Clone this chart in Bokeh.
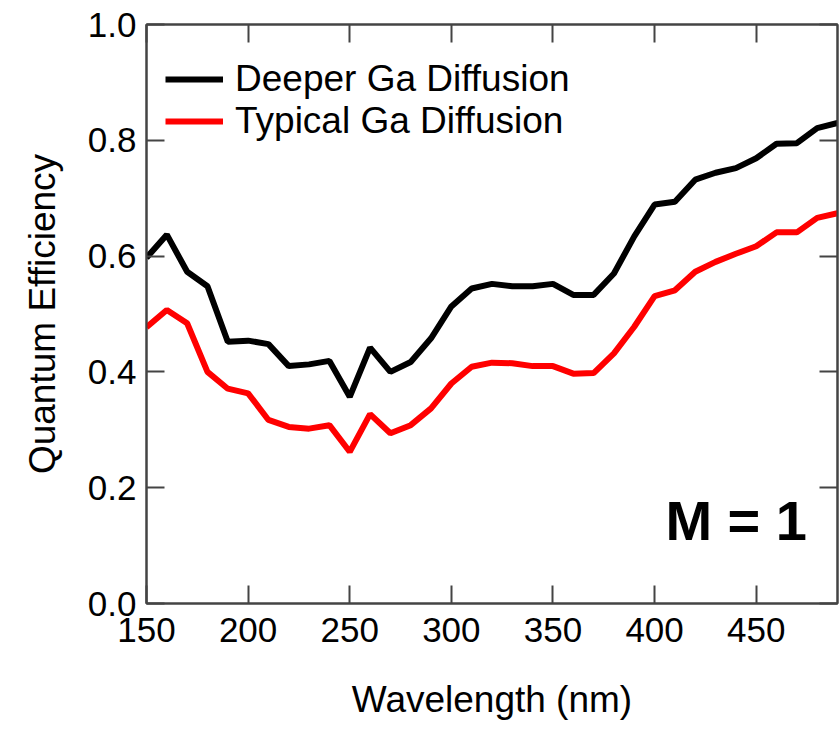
from bokeh.plotting import figure
from bokeh.models import (LinearAxis, Legend, LegendItem, Label, Range1d,
                          FixedTicker, NumeralTickFormatter, CustomJSTickFormatter)
from bokeh.embed import file_html
from bokeh.resources import INLINE

# ---- data ----
wavelength = [150, 160, 170, 180, 190, 200, 210, 220, 230, 240, 250, 260,
              270, 280, 290, 300, 310, 320, 330, 340, 350, 360, 370, 380,
              390, 400, 410, 420, 430, 440, 450, 460, 470, 480, 490]
deeper = [0.597, 0.637, 0.573, 0.548, 0.452, 0.454, 0.448, 0.410, 0.413,
          0.419, 0.357, 0.442, 0.400, 0.417, 0.458, 0.513, 0.544, 0.552,
          0.548, 0.548, 0.552, 0.533, 0.533, 0.570, 0.634, 0.689, 0.694,
          0.732, 0.744, 0.752, 0.769, 0.794, 0.795, 0.821, 0.830]
typical = [0.477, 0.507, 0.484, 0.400, 0.371, 0.363, 0.317, 0.305, 0.302,
           0.308, 0.262, 0.327, 0.294, 0.308, 0.337, 0.380, 0.409, 0.416,
           0.415, 0.410, 0.410, 0.397, 0.398, 0.432, 0.478, 0.531, 0.541,
           0.573, 0.590, 0.604, 0.617, 0.641, 0.641, 0.666, 0.674]
x_ticks = [150, 200, 250, 300, 350, 400, 450]
y_ticks = [0.0, 0.2, 0.4, 0.6, 0.8, 1.0]
series_labels = ["Deeper Ga Diffusion", "Typical Ga Diffusion"]
series_colors = ["black", "#ff0000"]
x_title = "Wavelength (nm)"
y_title = "Quantum Efficiency"
annotation = "M = 1"

FONT = "Liberation Sans"
AXC = "#444444"

p = figure(width=840, height=730, output_backend="svg", toolbar_location=None,
           x_range=Range1d(150, 490), y_range=Range1d(0, 1.0),
           min_border_left=146, min_border_right=3, min_border_top=24,
           min_border_bottom=127, x_axis_location=None, y_axis_location=None)
p.xgrid.visible = False
p.ygrid.visible = False
p.outline_line_color = AXC
p.outline_line_width = 2
p.background_fill_color = "white"
p.border_fill_color = "white"


def style_axis(ax, ticks, show_labels):
    ax.ticker = FixedTicker(ticks=ticks)
    ax.axis_line_color = AXC
    ax.axis_line_width = 2
    ax.major_tick_line_color = AXC
    ax.major_tick_line_width = 2
    ax.major_tick_in = 18
    ax.major_tick_out = 0
    ax.minor_tick_line_color = None
    ax.major_label_text_font = FONT
    ax.major_label_text_color = "black"
    ax.axis_label_text_font = FONT
    ax.axis_label_text_font_style = "normal"
    ax.axis_label_text_color = "black"
    if show_labels:
        ax.major_label_text_font_size = "35px"
        ax.major_label_standoff = 10
    else:
        ax.formatter = CustomJSTickFormatter(code="return ''")
        ax.major_label_text_font_size = "1px"
        ax.major_label_standoff = 0


xb = LinearAxis(axis_label=x_title)
style_axis(xb, x_ticks, True)
xb.major_label_standoff = 14
xb.axis_label_text_font_size = "37px"
xb.axis_label_standoff = 34
p.add_layout(xb, "below")

yl = LinearAxis(axis_label=y_title, formatter=NumeralTickFormatter(format="0.0"))
style_axis(yl, y_ticks, True)
yl.axis_label_text_font_size = "37px"
yl.axis_label_standoff = 22
p.add_layout(yl, "left")

xt = LinearAxis()
style_axis(xt, x_ticks, False)
p.add_layout(xt, "above")

yr = LinearAxis()
style_axis(yr, y_ticks, False)
p.add_layout(yr, "right")

r1 = p.line(wavelength, deeper, line_width=6, line_color=series_colors[0])
r2 = p.line(wavelength, typical, line_width=6, line_color=series_colors[1])

legend = Legend(items=[LegendItem(label=series_labels[0], renderers=[r1]),
                       LegendItem(label=series_labels[1], renderers=[r2])],
                location=(19, 461), padding=0, margin=0, spacing=0,
                border_line_color=None, background_fill_alpha=0,
                label_text_font=FONT, label_text_font_size="37px",
                label_text_color="black",
                glyph_width=58, label_standoff=12)
p.add_layout(legend)

p.add_layout(Label(x=475, y=0.144, text=annotation, text_font=FONT,
                   text_font_size="56px", text_font_style="bold",
                   text_align="right", text_baseline="alphabetic",
                   text_color="black"))

open("out.html", "w").write(file_html(p, INLINE))
